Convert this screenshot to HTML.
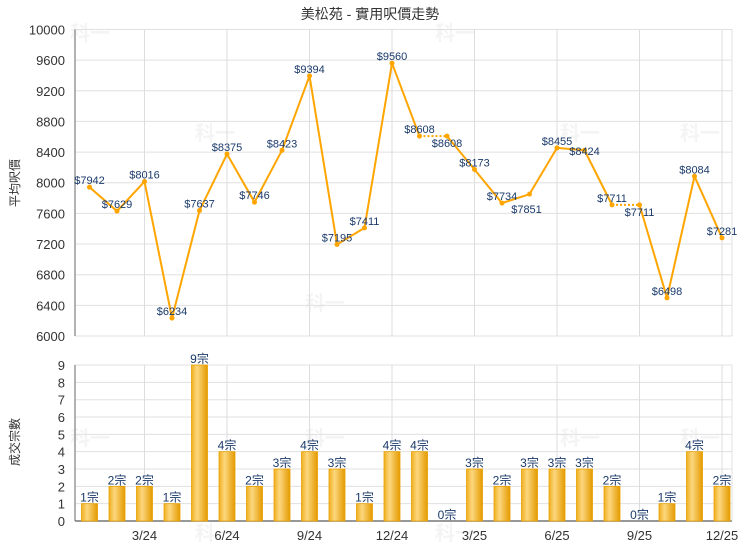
<!DOCTYPE html><html><head><meta charset="utf-8"><style>body{margin:0;background:#fff}svg{display:block}text{font-family:"Liberation Sans","Noto Sans CJK TC",sans-serif}</style></head><body>
<svg id="s" width="740" height="550" xmlns="http://www.w3.org/2000/svg">
<defs><linearGradient id="g" x1="0" x2="1"><stop offset="0" stop-color="#f0b020"/><stop offset="0.35" stop-color="#fcd77e"/><stop offset="1" stop-color="#e49a00"/></linearGradient></defs>
<text x="370" y="19" text-anchor="middle" font-size="14" fill="#333">美松苑 - 實用呎價走勢</text>
<g id="top"></g>
</svg>
<script>
const s=document.getElementById('top');let h='';
const vals=[7942,7629,8016,6234,7637,8375,7746,8423,9394,7195,7411,9560,8608,8608,8173,7734,7851,8455,8424,7711,7711,6498,8084,7281];
const cnt=[1,2,2,1,9,4,2,3,4,3,1,4,4,0,3,2,3,3,3,2,0,1,4,2];
const X=i=>89.5+27.5*i, Y=v=>336-(v-6000)*0.07663, B=c=>521-c*17.33;
const L=75,R=732;
[[90,40],[215,140],[325,310],[455,40],[580,140],[700,140],[90,445],[215,540],[325,445],[455,540],[580,445],[700,445]].forEach(p=>h+=`<text x="${p[0]}" y="${p[1]}" font-size="20" font-weight="bold" fill="#f4f4f4" text-anchor="middle">科一</text>`);
for(let k=0;k<=10;k++){const y=Y(6000+400*k);h+=`<line x1="${L}" x2="${R}" y1="${y}" y2="${y}" stroke="#e0e0e0"/><text x="${L-10}" y="${y+5}" text-anchor="end" font-size="13" fill="#333">${6000+400*k}</text>`;}
for(let k=0;k<=9;k++){const y=B(k);h+=`<line x1="${L}" x2="${R}" y1="${y}" y2="${y}" stroke="#e0e0e0"/><text x="${L-10}" y="${y+5}" text-anchor="end" font-size="13" fill="#333">${k}</text>`;}
const mon=['3/24','6/24','9/24','12/24','3/25','6/25','9/25','12/25'];
for(let j=0;j<8;j++){const x=X(2+3*j);h+=`<line x1="${x}" x2="${x}" y1="29.5" y2="336" stroke="#ddd"/><line x1="${x}" x2="${x}" y1="365" y2="521" stroke="#ddd"/><text x="${x}" y="540" text-anchor="middle" font-size="13" fill="#333">${mon[j]}</text>`;}
h+=`<line x1="${L}" x2="${L}" y1="29.5" y2="336" stroke="#999" stroke-width="1.5"/><line x1="${L}" x2="${L}" y1="365" y2="521" stroke="#999" stroke-width="1.5"/><line x1="${L}" x2="${R}" y1="521" y2="521" stroke="#777" stroke-width="1.5"/><line x1="${R}" x2="${R}" y1="29.5" y2="336" stroke="#e0e0e0"/><line x1="${R}" x2="${R}" y1="365" y2="521" stroke="#e0e0e0"/>`;
h+=`<text transform="translate(19,183) rotate(-90)" text-anchor="middle" font-size="12" fill="#333">平均呎價</text><text transform="translate(19,442) rotate(-90)" text-anchor="middle" font-size="12" fill="#333">成交宗數</text>`;
for(let i=0;i<23;i++){const d=(i==12||i==19);h+=`<line x1="${X(i)}" y1="${Y(vals[i])}" x2="${X(i+1)}" y2="${Y(vals[i+1])}" stroke="#ffa500" stroke-width="2" ${d?'stroke-dasharray="2,2"':''}/>`;}
const off={13:11,20:11,16:19,18:5};
vals.forEach((v,i)=>{const x=X(i),y=Y(v);h+=`<circle cx="${x}" cy="${y}" r="2.5" fill="#ffa500"/>`;const o=off[i]!==undefined?off[i]:-3;h+=`<text x="${x-(i==16?3:0)}" y="${y+o}" text-anchor="middle" font-size="11" fill="#1a3a6a">$${v}</text>`;});
cnt.forEach((c,i)=>{const x=X(i);if(c>0)h+=`<rect x="${x-8}" y="${B(c)}" width="16" height="${521-B(c)}" fill="url(#g)" stroke="#e8a000" stroke-width="0.8"/>`;h+=`<text x="${x}" y="${B(c)-2}" text-anchor="middle" font-size="12" fill="#1a3a6a">${c}宗</text>`;});
s.innerHTML=h;
</script></body></html>
